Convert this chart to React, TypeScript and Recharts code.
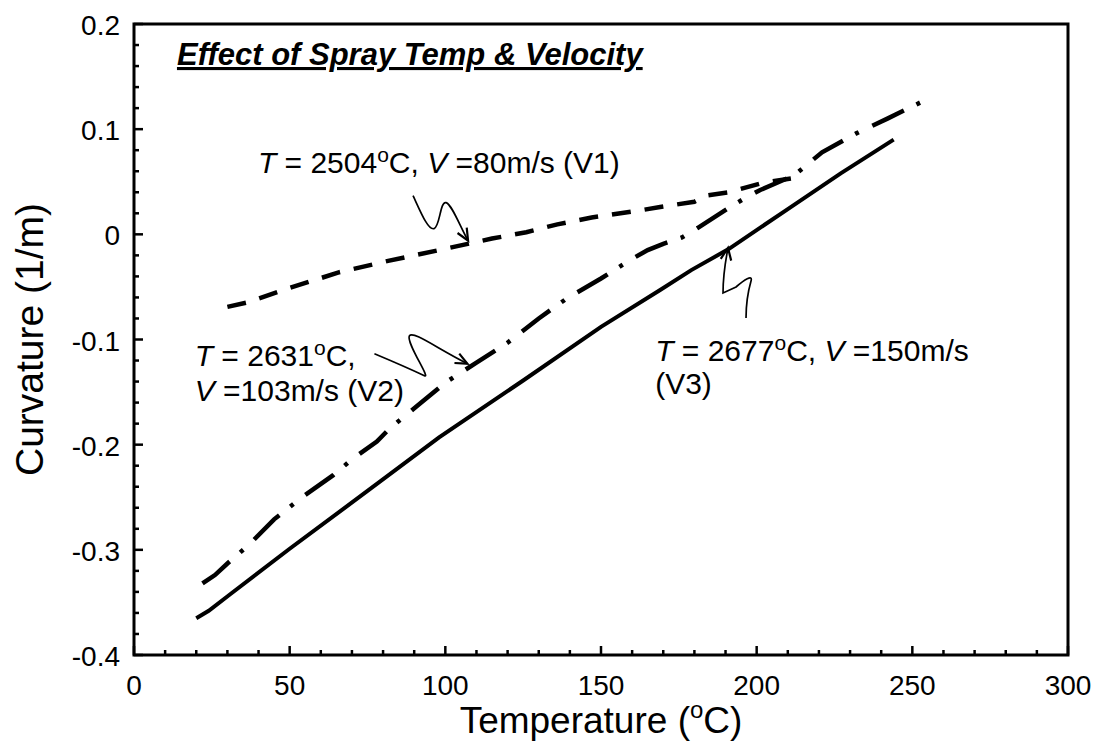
import React from "react";
import { LineChart, Line, XAxis, YAxis, ReferenceArea, ReferenceDot } from "recharts";

const FONT = "'Liberation Sans', Arial, Helvetica, sans-serif";

// V1: T = 2504°C, V = 80 m/s (dashed)
const v1Temp = [30, 36, 50, 66, 82, 98, 115, 126, 136, 147, 163, 169, 180, 184, 191, 202, 211];
const v1Curv = [-0.069, -0.065, -0.051, -0.036, -0.025, -0.015, -0.004, 0.002, 0.0095, 0.016, 0.023, 0.026, 0.031, 0.037, 0.04, 0.049, 0.053];

// V2: T = 2631°C, V = 103 m/s (dash-dot)
const v2Temp = [22, 26, 30, 37, 45, 54, 64, 70, 78, 82, 91, 100, 110, 120, 130, 139, 150, 159, 165, 170, 176, 181, 191, 196, 201, 212, 221, 232, 237, 242, 253];
const v2Curv = [-0.332, -0.324, -0.313, -0.295, -0.271, -0.25, -0.229, -0.214, -0.197, -0.185, -0.163, -0.141, -0.122, -0.103, -0.08, -0.061, -0.042, -0.025, -0.015, -0.009, -0.003, 0.006, 0.025, 0.034, 0.042, 0.056, 0.078, 0.096, 0.103, 0.11, 0.126];

// V3: T = 2677°C, V = 150 m/s (solid)
const v3Temp = [20, 24, 31, 50, 75, 98, 125, 150, 169, 179, 191, 210, 227, 244];
const v3Curv = [-0.365, -0.358, -0.342, -0.299, -0.244, -0.193, -0.139, -0.088, -0.053, -0.034, -0.014, 0.024, 0.058, 0.09];

const xTicks = [0, 10, 20, 30, 40, 50, 60, 70, 80, 90, 100, 110, 120, 130, 140, 150, 160, 170, 180, 190, 200, 210, 220, 230, 240, 250, 260, 270, 280, 290, 300];
const xMajor = [0, 50, 100, 150, 200, 250, 300];
const xLabels = ["0", "50", "100", "150", "200", "250", "300"];

const yTicks = [-0.4, -0.38, -0.36, -0.34, -0.32, -0.3, -0.28, -0.26, -0.24, -0.22, -0.2, -0.18, -0.16, -0.14, -0.12, -0.1, -0.08, -0.06, -0.04, -0.02, 0, 0.02, 0.04, 0.06, 0.08, 0.1, 0.12, 0.14, 0.16, 0.18, 0.2];
const yMajor = [-0.4, -0.3, -0.2, -0.1, 0, 0.1, 0.2];
const yLabels = ["-0.4", "-0.3", "-0.2", "-0.1", "0", "0.1", "0.2"];

const toRows = (xs: number[], ys: number[]) => xs.map((t, i) => ({ t, k: ys[i] }));
const v1Data = toRows(v1Temp, v1Curv);
const v2Data = toRows(v2Temp, v2Curv);
const v3Data = toRows(v3Temp, v3Curv);

const majorIdx = (list: number[], v: number) => list.findIndex((m) => Math.abs(m - v) < 1e-9);

function XTick(props: any) {
  const { x, y, payload } = props;
  const i = majorIdx(xMajor, payload.value);
  return (
    <g>
      <line x1={x} y1={y} x2={x} y2={y - (i >= 0 ? 9 : 5)} stroke="#000" strokeWidth={2.5} />
      {i >= 0 && (
        <text x={x} y={y + 40} textAnchor="middle" fontSize={28} fontFamily={FONT} fill="#000">
          {xLabels[i]}
        </text>
      )}
    </g>
  );
}

function YTick(props: any) {
  const { x, y, payload } = props;
  const i = majorIdx(yMajor, payload.value);
  return (
    <g>
      <line x1={x} y1={y} x2={x + (i >= 0 ? 9 : 5)} y2={y} stroke="#000" strokeWidth={2.5} />
      {i >= 0 && (
        <text x={x - 14} y={y + 11} textAnchor="end" fontSize={28} fontFamily={FONT} fill="#000">
          {yLabels[i]}
        </text>
      )}
    </g>
  );
}

const xTitle = (props: any) => {
  const vb = props.viewBox;
  return (
    <text x={vb.x + vb.width / 2} y={vb.y + 78} textAnchor="middle" fontSize={37} fontFamily={FONT} fill="#000">
      Temperature (<tspan dy={-15} fontSize={24}>o</tspan>
      <tspan dy={15}>C)</tspan>
    </text>
  );
};

const yTitle = (props: any) => {
  const vb = props.viewBox;
  const cx = 43;
  const cy = vb.y + vb.height / 2;
  return (
    <text x={cx} y={cy} transform={`rotate(-90 ${cx} ${cy})`} textAnchor="middle" fontSize={39} fontFamily={FONT} fill="#000">
      Curvature (1/m)
    </text>
  );
};

// curly arrow, tip at (cx, cy); dir = angle of final approach in degrees
function Squiggle({ cx, cy, d, dir }: any) {
  const a = (dir * Math.PI) / 180;
  const len = 13;
  const s = 0.42;
  const p1 = [-len * Math.cos(a - s), -len * Math.sin(a - s)];
  const p2 = [-len * Math.cos(a + s), -len * Math.sin(a + s)];
  return (
    <g transform={`translate(${cx},${cy})`} fill="none" stroke="#000">
      <path d={d} strokeWidth={1.7} />
      <path d={`M ${p1[0]} ${p1[1]} L 0 0 L ${p2[0]} ${p2[1]}`} strokeWidth={2.2} />
    </g>
  );
}

function TextV1({ cx, cy }: any) {
  return (
    <text x={cx} y={cy} fontSize={30} fontFamily={FONT} fill="#000">
      <tspan fontStyle="italic">T</tspan> = 2504<tspan dy={-11} fontSize={21}>o</tspan>
      <tspan dy={11}>C, </tspan>
      <tspan fontStyle="italic">V</tspan> =80m/s (V1)
    </text>
  );
}

function TextV2({ cx, cy }: any) {
  return (
    <text x={cx} y={cy} fontSize={30} fontFamily={FONT} fill="#000">
      <tspan fontStyle="italic">T</tspan> = 2631<tspan dy={-11} fontSize={21}>o</tspan>
      <tspan dy={11}>C,</tspan>
      <tspan x={cx} dy={35} fontStyle="italic">V</tspan> =103m/s (V2)
    </text>
  );
}

function TextV3({ cx, cy }: any) {
  return (
    <text x={cx} y={cy} fontSize={30} fontFamily={FONT} fill="#000">
      <tspan fontStyle="italic">T</tspan> = 2677<tspan dy={-11} fontSize={21}>o</tspan>
      <tspan dy={11}>C, </tspan>
      <tspan fontStyle="italic">V</tspan> =150m/s
      <tspan x={cx} dy={33}>(V3)</tspan>
    </text>
  );
}

function Title({ cx, cy }: any) {
  return (
    <text
      x={cx}
      y={cy}
      fontSize={31}
      fontWeight="bold"
      fontStyle="italic"
      fontFamily={FONT}
      fill="#000"
      style={{ textDecoration: "underline" }}
    >
      Effect of Spray Temp &amp; Velocity
    </text>
  );
}

export default function App() {
  return (
    <div style={{ position: "absolute", left: 0, top: 0, background: "#fff" }}>
      <LineChart width={1105} height={749} margin={{ top: 24, right: 37, bottom: 0, left: 0 }}>
        <XAxis
          dataKey="t"
          type="number"
          domain={[0, 300]}
          ticks={xTicks}
          interval={0}
          height={94}
          axisLine={false}
          tickLine={false}
          tickSize={0}
          tickMargin={0}
          tick={<XTick />}
          allowDataOverflow
          label={xTitle}
        />
        <YAxis
          type="number"
          domain={[-0.4, 0.2]}
          ticks={yTicks}
          interval={0}
          width={134}
          axisLine={false}
          tickLine={false}
          tickSize={0}
          tickMargin={0}
          tick={<YTick />}
          allowDataOverflow
          label={yTitle}
        />
        <Line data={v1Data} dataKey="k" type="linear" stroke="#000" strokeWidth={4.5} strokeDasharray="19 14" dot={false} activeDot={false} isAnimationActive={false} />
        <Line data={v2Data} dataKey="k" type="linear" stroke="#000" strokeWidth={4.5} strokeDasharray="35 14 4 15" dot={false} activeDot={false} isAnimationActive={false} />
        <Line data={v3Data} dataKey="k" type="linear" stroke="#000" strokeWidth={4} dot={false} activeDot={false} isAnimationActive={false} />
        <ReferenceArea x1={0} x2={300} y1={-0.4} y2={0.2} fill="none" fillOpacity={0} stroke="#000" strokeWidth={3} ifOverflow="visible" />

        <ReferenceDot x={13.8} y={0.161} r={0} ifOverflow="visible" shape={(p: any) => <Title {...p} />} />
        <ReferenceDot x={39.8} y={0.058} r={0} ifOverflow="visible" shape={(p: any) => <TextV1 {...p} />} />
        <ReferenceDot x={19.5} y={-0.125} r={0} ifOverflow="visible" shape={(p: any) => <TextV2 {...p} />} />
        <ReferenceDot x={167.4} y={-0.12} r={0} ifOverflow="visible" shape={(p: any) => <TextV3 {...p} />} />

        <ReferenceDot
          x={107.3}
          y={-0.006}
          r={0}
          ifOverflow="visible"
          shape={(p: any) => (
            <Squiggle {...p} dir={60} d="M -55 -45 C -48 -30, -40 -10, -34 -12 C -28 -14, -28 -40, -22 -38 C -16 -36, -8 -14, 0 0" />
          )}
        />
        <ReferenceDot
          x={107.1}
          y={-0.123}
          r={0}
          ifOverflow="visible"
          shape={(p: any) => (
            <Squiggle {...p} dir={27} d="M -93 -10 Q -62 3, -43 12 C -36 16, -62 -22, -58 -28 C -54 -33, -30 -15, 0 0" />
          )}
        />
        <ReferenceDot
          x={190.8}
          y={-0.013}
          r={0}
          ifOverflow="visible"
          shape={(p: any) => (
            <Squiggle {...p} dir={-80} d="M 18 70 C 18 55, 21 40, 23 33 C 25 26, 16 32, 8 39 L -5 45 C -5 30, -3 15, 0 0" />
          )}
        />
      </LineChart>
    </div>
  );
}
